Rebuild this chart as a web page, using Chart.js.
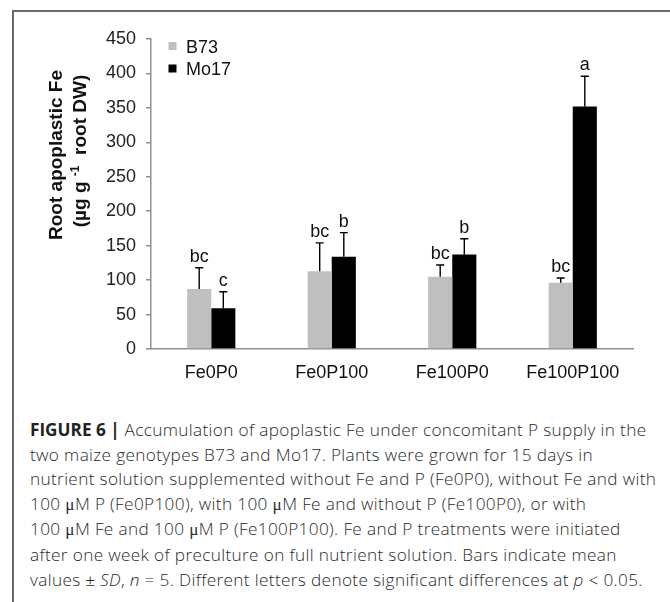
<!DOCTYPE html>
<html lang="en">

<head>
    <meta charset="UTF-8">
    <title>Figure 6 - Root apoplastic Fe</title>
    <script src="https://cdn.jsdelivr.net/npm/chart.js"></script>
    <style>
        body {
            margin: 0;
            background: #fff;
            font-family: 'Liberation Sans', Arial, sans-serif;
        }

        .figure {
            position: relative;
            width: 670px;
            height: 602px;
            overflow: hidden;
        }

        .frame {
            position: absolute;
            left: 12px;
            top: 10px;
            width: 700px;
            height: 700px;
            border-top: 2px solid #6a6a6a;
            border-left: 2px solid #6a6a6a;
        }

        #chart {
            position: absolute;
            left: 0;
            top: 0;
        }

        .caption {
            position: absolute;
            left: 30px;
            top: 418px;
            font-family: 'Open Sans', 'Liberation Sans', sans-serif;
            font-weight: 300;
            font-size: 17.2px;
            letter-spacing: 0.35px;
            line-height: 24.6px;
            color: #2a2a2a;
            white-space: nowrap;
        }

        .caption b {
            font-weight: 700;
            color: #222;
            letter-spacing: 0;
        }

        .sym {
            font-family: 'Liberation Serif', serif;
            font-weight: 400;
        }
    </style>
</head>

<body>
    <div class="figure">
        <div class="frame"></div>
        <canvas id="chart" width="670" height="400"></canvas>
        <div class="caption">
            <div><b>FIGURE 6 |</b> Accumulation of apoplastic Fe under concomitant P supply in the</div>
            <div>two maize genotypes B73 and Mo17. Plants were grown for 15 days in</div>
            <div>nutrient solution supplemented without Fe and P (Fe0P0), without Fe and with</div>
            <div>100 <span class="sym">μ</span>M P (Fe0P100), with 100 <span class="sym">μ</span>M Fe and without P (Fe100P0), or with</div>
            <div>100 <span class="sym">μ</span>M Fe and 100 <span class="sym">μ</span>M P (Fe100P100). Fe and P treatments were initiated</div>
            <div>after one week of preculture on full nutrient solution. Bars indicate mean</div>
            <div>values <span class="sym">±</span> <i>SD</i>, <i>n</i> = 5. Different letters denote significant differences at <i>p</i> <span class="sym">&lt;</span> 0.05.</div>
        </div>
    </div>

    <script>
        const categories = ['Fe0P0', 'Fe0P100', 'Fe100P0', 'Fe100P100'];

        const b73Mean = [87, 113, 105, 96];
        const b73Sd = [31, 41, 17, 7];
        const b73Letters = ['bc', 'bc', 'bc', 'bc'];

        const mo17Mean = [59, 134, 137, 352];
        const mo17Sd = [24, 35, 23, 44];
        const mo17Letters = ['c', 'b', 'b', 'a'];

        const yMin = 0;
        const yMax = 450;
        const yStep = 50;

        const fontFamily = "'Liberation Sans', Arial, sans-serif";
        Chart.defaults.font.family = fontFamily;

        // SD whiskers (upper half only) and significance letters
        const errorBars = {
            id: 'errorBars',
            afterDatasetsDraw(chart) {
                const ctx = chart.ctx;
                const y = chart.scales.y;
                chart.data.datasets.forEach((ds, i) => {
                    chart.getDatasetMeta(i).data.forEach((bar, j) => {
                        const top = y.getPixelForValue(ds.data[j] + ds.sd[j]);
                        ctx.save();
                        ctx.strokeStyle = '#000';
                        ctx.lineWidth = 1.4;
                        ctx.beginPath();
                        ctx.moveTo(bar.x, bar.y);
                        ctx.lineTo(bar.x, top);
                        ctx.moveTo(bar.x - 4, top);
                        ctx.lineTo(bar.x + 4, top);
                        ctx.stroke();
                        ctx.fillStyle = '#111';
                        ctx.font = '18px ' + fontFamily;
                        ctx.textAlign = 'center';
                        ctx.textBaseline = 'alphabetic';
                        ctx.fillText(ds.letters[j], bar.x, top - 6);
                        ctx.restore();
                    });
                });
            }
        };

        // Excel-like legend in the top left corner and the two-line axis title
        const extras = {
            id: 'extras',
            afterDraw(chart) {
                const ctx = chart.ctx;
                ctx.save();
                chart.data.datasets.forEach((ds, i) => {
                    ctx.fillStyle = ds.backgroundColor;
                    ctx.fillRect(168.5, 42 + i * 22.5, 8, 8);
                    ctx.fillStyle = '#111';
                    ctx.font = '18px ' + fontFamily;
                    ctx.textAlign = 'left';
                    ctx.textBaseline = 'alphabetic';
                    ctx.fillText(ds.label, 186, 52.5 + i * 22);
                });

                ctx.translate(62, 155);
                ctx.rotate(-Math.PI / 2);
                ctx.fillStyle = '#111';
                ctx.textBaseline = 'alphabetic';
                ctx.textAlign = 'center';
                ctx.font = 'bold 19px ' + fontFamily;
                ctx.fillText('Root apoplastic Fe', 0, 0);

                const parts = [
                    { t: '(µg g ', size: 19, dy: 0 },
                    { t: '-1', size: 12, dy: -7 },
                    { t: '  root DW)', size: 19, dy: 0 }
                ];
                let total = 0;
                parts.forEach(p => {
                    ctx.font = 'bold ' + p.size + 'px ' + fontFamily;
                    p.w = ctx.measureText(p.t).width;
                    total += p.w;
                });
                let x = -total / 2 + 4;
                ctx.textAlign = 'left';
                parts.forEach(p => {
                    ctx.font = 'bold ' + p.size + 'px ' + fontFamily;
                    ctx.fillText(p.t, x, 24 + p.dy);
                    x += p.w;
                });
                ctx.restore();
            }
        };

        const chart = new Chart(document.getElementById('chart'), {
            type: 'bar',
            data: {
                labels: categories,
                datasets: [
                    {
                        label: 'B73',
                        data: b73Mean,
                        sd: b73Sd,
                        letters: b73Letters,
                        backgroundColor: '#bfbfbf',
                        borderWidth: 0,
                        categoryPercentage: 0.4,
                        barPercentage: 1.0
                    },
                    {
                        label: 'Mo17',
                        data: mo17Mean,
                        sd: mo17Sd,
                        letters: mo17Letters,
                        backgroundColor: '#000000',
                        borderWidth: 0,
                        categoryPercentage: 0.4,
                        barPercentage: 1.0
                    }
                ]
            },
            options: {
                responsive: false,
                animation: false,
                layout: {
                    padding: { left: 0, top: 39, right: 37, bottom: 0 }
                },
                plugins: {
                    legend: { display: false },
                    tooltip: { enabled: false }
                },
                scales: {
                    x: {
                        grid: { display: false, drawTicks: false },
                        border: { display: true, color: '#8f8f8f', width: 1.5 },
                        ticks: { color: '#111', font: { size: 18 }, padding: 13 },
                        afterFit(scale) {
                            scale.height = 51;
                        }
                    },
                    y: {
                        min: yMin,
                        max: yMax,
                        ticks: { stepSize: yStep, color: '#222', font: { size: 18 }, padding: 10 },
                        grid: { drawOnChartArea: false, tickLength: 5, color: '#8f8f8f', lineWidth: 1.5 },
                        border: { color: '#8f8f8f', width: 1.5 },
                        afterFit(scale) {
                            scale.width = 151;
                        }
                    }
                }
            },
            plugins: [errorBars, extras]
        });
    </script>
</body>

</html>
